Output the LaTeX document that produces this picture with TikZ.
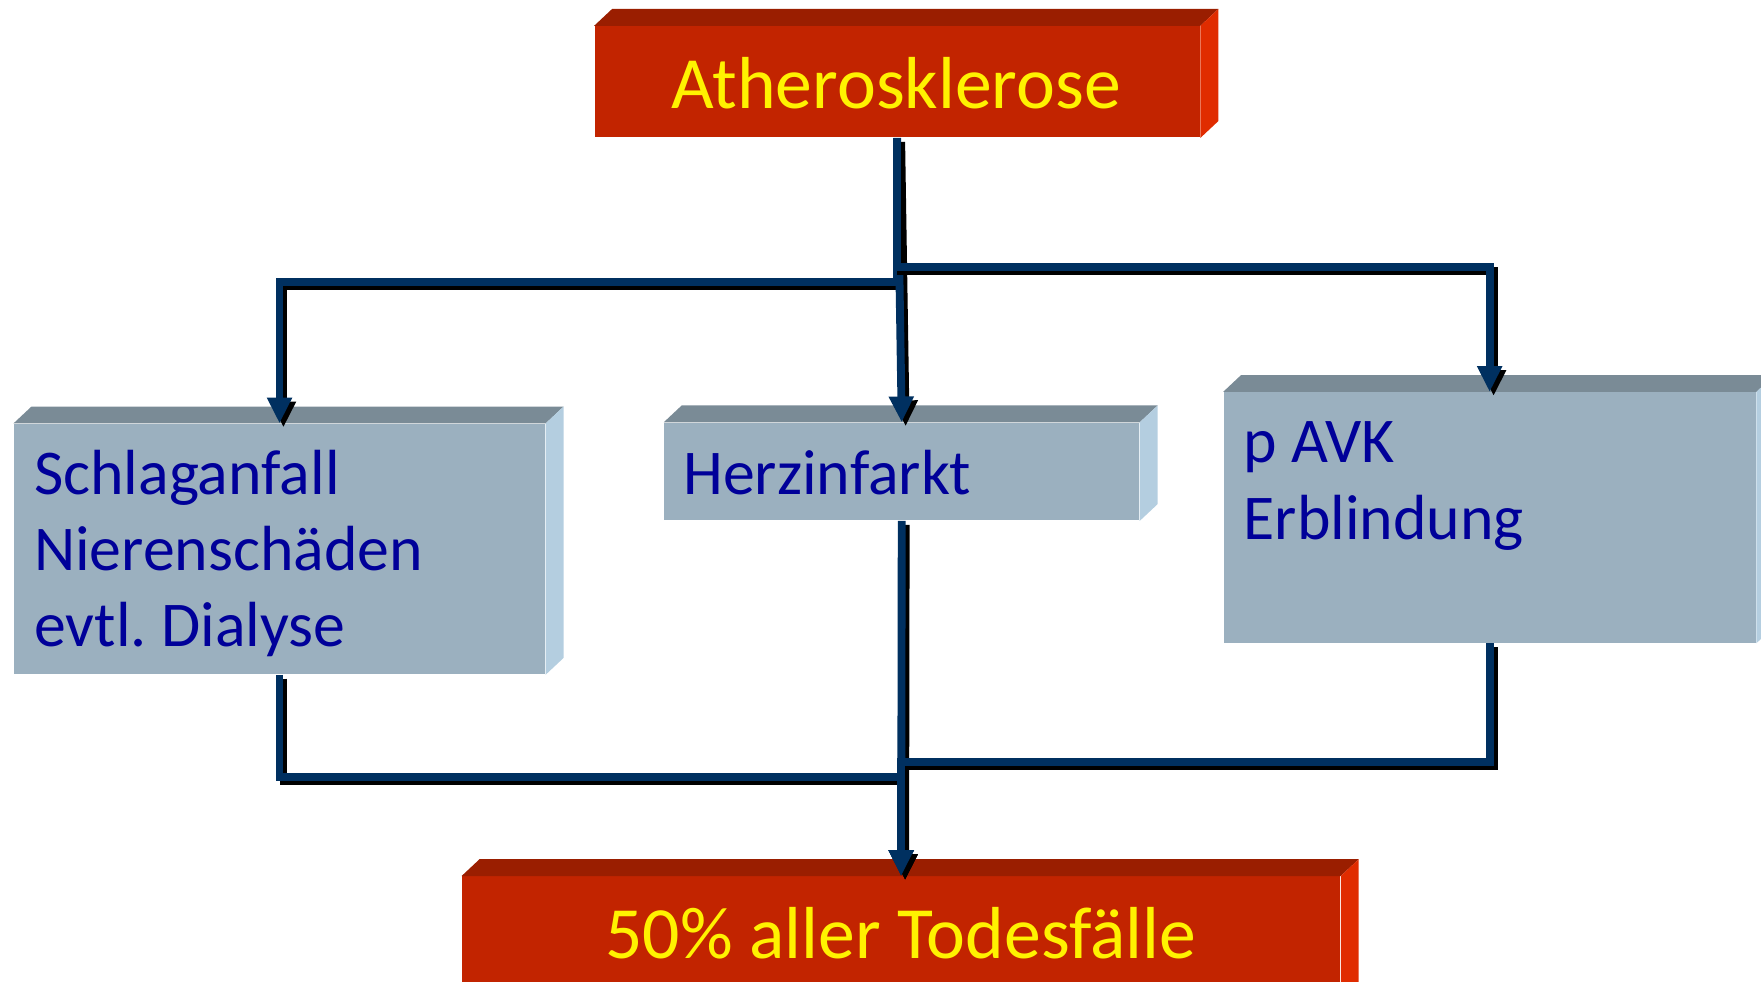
\documentclass[tikz,border=0pt]{standalone}
\usepackage{fontspec}
\setmainfont{Carlito}
\usetikzlibrary{arrows.meta}
\definecolor{navy}{HTML}{003060}
\definecolor{redfront}{HTML}{C22400}
\definecolor{redtop}{HTML}{9A1E00}
\definecolor{redside}{HTML}{E02C00}
\definecolor{grayfront}{HTML}{9BB0BF}
\definecolor{graytop}{HTML}{7A8B96}
\definecolor{grayside}{HTML}{B4CEE0}
\definecolor{bluetext}{HTML}{000099}
\frenchspacing
\tikzset{
  redbox/.style={rectangle, fill=redfront, inner sep=0pt, anchor=north west},
  graybox/.style={rectangle, fill=grayfront, inner sep=0pt, anchor=north west},
  ytext/.style={text=yellow, inner sep=0pt, font=\fontsize{32.8pt}{39pt}\selectfont},
  btext/.style={text=bluetext, inner sep=0pt, anchor=base west, font=\fontsize{28.4pt}{34pt}\selectfont},
  connmain/.style={line width=3.5pt, draw=navy, -{Triangle[length=11.5pt,width=10.5pt]}},
  connshadow/.style={line width=3.5pt, draw=black, -{Triangle[length=11.5pt,width=10.5pt]}, transform canvas={shift={(1.75pt,-1.75pt)}}}
}
\newcommand\boxfaces[3]{%
  \fill[#2] (#1.north west) -- ++(16,-15) -- ([shift={(16,-15)}]#1.north east) -- (#1.north east) -- cycle;
  \fill[#3] (#1.north east) -- ++(16,-15) -- ([shift={(16,-15)}]#1.south east) -- (#1.south east) -- cycle;
}
\newcommand\conn[1]{\draw[connshadow] #1; \draw[connmain] #1;}
\begin{document}
\begin{tikzpicture}[x=0.5pt,y=-0.5pt]
\useasboundingbox (0,0) rectangle (1568,874);
\clip (0,0) rectangle (1568,874);

% boxes
\node[redbox, minimum width=269.5pt, minimum height=49.5pt] (top) at (529,23) {};
\boxfaces{top}{redtop}{redside}
\node[ytext, anchor=base] (toptxt) at (798,97) {Atherosklerose};

\node[graybox, minimum width=236.5pt, minimum height=111.5pt] (left) at (12,377) {};
\boxfaces{left}{graytop}{grayside}
\node[btext] (l1) at (30,440) {Schlaganfall};
\node[btext] (l2) at (30,508) {Nierenschäden};
\node[btext] (l3) at (30,576) {evtl. Dialyse};

\node[graybox, minimum width=211.5pt, minimum height=43.5pt] (mid) at (591,376) {};
\boxfaces{mid}{graytop}{grayside}
\node[btext] (m1) at (608,440) {Herzinfarkt};

\node[graybox, minimum width=237pt, minimum height=111.5pt] (right) at (1089,349) {};
\boxfaces{right}{graytop}{grayside}
\node[btext] (r1) at (1107,412) {p AVK};
\node[btext] (r2) at (1107,480) {Erblindung};

\node[redbox, minimum width=391pt, minimum height=60pt] (bot) at (411,780) {};
\boxfaces{bot}{redtop}{redside}
\node[ytext, anchor=base] (bottxt) at (802,853) {50\% aller Todesfälle};

% connectors
\conn{(top.south) -- ++(0,128) -| (left.north)}
\conn{(top.south) -- (mid.north)}
\conn{(top.south) -- ++(0,115) -| (right.north)}
\conn{(left.south) -- ++(0,91) -| (bot.north)}
\conn{(mid.south) -- (bot.north)}
\conn{(right.south) -- ++(0,106) -| (bot.north)}
\end{tikzpicture}
\end{document}
